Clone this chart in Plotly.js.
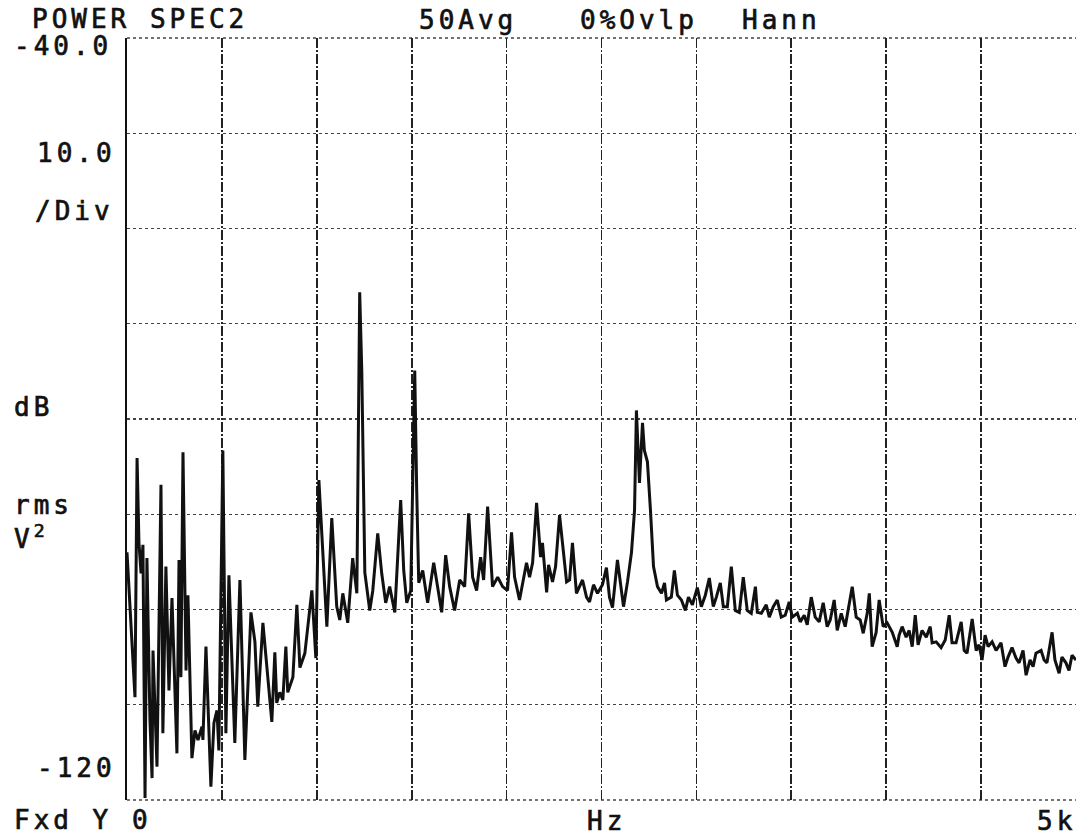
<!DOCTYPE html>
<html>
<head>
<meta charset="utf-8">
<script src="https://cdn.plot.ly/plotly-3.0.1.min.js"></script>
<style>
  html, body { margin: 0; padding: 0; background: #fff; }
  #chart { width: 1076px; height: 838px; }
  .annotation-text { letter-spacing: 4px; stroke: #111; stroke-width: 0.7px; }
</style>
</head>
<body>
<div id="chart"></div>
<script>
// Frequency (Hz)
const freqHz = [
  0, 32, 42, 53, 63, 74, 84, 95, 105, 121, 132, 137, 158, 179, 189, 205, 221, 237, 263, 274,
  284, 295, 311, 321, 342, 358, 374, 395, 400, 416, 442, 458, 474, 484, 505, 521, 537, 568, 595, 621,
  653, 674, 689, 716, 763, 779, 789, 805, 821, 837, 847, 874, 895, 911, 937, 974, 995,
  1011, 1032, 1053, 1079, 1105, 1121, 1137, 1163, 1189, 1211, 1226, 1237, 1253, 1279, 1295, 1321, 1342, 1363, 1384,
  1411, 1442, 1458, 1474, 1495, 1516, 1526, 1537, 1558, 1584, 1616, 1632, 1658, 1679, 1700, 1726, 1753, 1779, 1800,
  1821, 1842, 1863, 1879, 1900, 1926, 1953, 1979, 2005, 2026, 2042, 2068, 2105,
  2121, 2137, 2158, 2179, 2189, 2211, 2221, 2242, 2258, 2279, 2295, 2316, 2332, 2347, 2368, 2384, 2400, 2421, 2437,
  2458, 2479, 2505, 2526, 2542, 2558, 2584, 2616, 2637, 2658, 2674, 2684, 2700, 2716, 2726, 2742, 2758, 2774, 2795,
  2816, 2832, 2842, 2868, 2884, 2900, 2921, 2942, 2958, 2979, 3005, 3026, 3047, 3068, 3089, 3105, 3126, 3142,
  3163, 3184, 3205, 3226, 3247, 3268, 3289, 3311, 3321, 3342, 3368, 3384, 3405, 3426, 3447, 3468, 3489, 3505, 3532,
  3547, 3568, 3584, 3605, 3626, 3647, 3668, 3689, 3705, 3726, 3742, 3763, 3784, 3800, 3821, 3842, 3863, 3879, 3900,
  3911, 3926, 3947, 3963, 3984, 4005, 4032, 4058,
  4068, 4084, 4105, 4121, 4137, 4153, 4168, 4189, 4211, 4232, 4242, 4263, 4289, 4311, 4332, 4347, 4368, 4395, 4411,
  4426, 4453, 4474, 4489, 4505, 4521, 4537, 4558, 4579, 4605, 4626, 4642, 4663, 4684, 4700, 4721, 4737, 4758, 4774,
  4789, 4816, 4832, 4847, 4874, 4889, 4911, 4926, 4947, 4963, 4979, 5000
];
// Power (dB rms V^2)
const powerDb = [
  -94.0, -106.7, -109.2, -84.1, -93.0, -96.2, -93.2, -119.8, -94.6, -111.6, -117.7, -104.3, -116.5, -86.9, -113.0, -95.5, -108.5, -98.8, -115.1, -94.8,
  -107.1, -83.5, -106.4, -98.5, -115.6, -112.7, -113.7, -112.3, -113.7, -103.9, -118.6, -111.9, -110.6, -114.8, -83.3, -113.0, -96.4, -114.0, -96.9, -115.8,
  -100.3, -103.4, -110.2, -101.4, -111.8, -104.5, -109.8, -108.7, -109.5, -103.9, -108.7, -107.1, -99.5, -106.1, -104.6, -98.0, -105.1,
  -86.4, -94.8, -101.8, -90.4, -99.7, -101.1, -98.3, -101.4, -94.6, -98.3, -66.7, -74.9, -96.1, -100.1, -98.0, -92.0, -96.2, -99.3, -97.6,
  -100.3, -88.5, -95.9, -99.3, -98.0, -74.9, -87.1, -97.2, -95.9, -99.3, -95.1, -97.2, -100.3, -94.3, -97.6, -100.1, -96.9, -97.6, -89.9,
  -96.6, -98.0, -94.5, -96.9, -89.2, -97.6, -96.6, -97.6, -98.0, -91.9, -96.6, -99.0, -95.1,
  -96.6, -95.1, -88.8, -94.5, -93.0, -98.2, -95.3, -97.1, -95.5, -90.1, -93.0, -97.1, -96.9, -93.0, -98.3, -97.6, -96.9, -98.7, -99.2,
  -97.4, -98.3, -97.4, -95.6, -98.7, -99.8, -94.8, -99.7, -97.1, -94.0, -89.6, -79.1, -86.7, -80.4, -83.3, -84.5, -89.6, -95.5, -97.6,
  -98.3, -97.2, -99.0, -98.7, -95.9, -98.5, -99.0, -100.1, -98.7, -99.5, -97.7, -99.7, -98.5, -96.7, -99.7, -98.7, -97.2, -99.7,
  -99.7, -95.5, -100.1, -100.3, -96.6, -100.1, -100.4, -97.6, -100.3, -100.4, -99.5, -100.8, -99.7, -99.0, -100.8, -100.6, -99.2, -100.8, -100.4,
  -101.3, -100.6, -101.6, -98.7, -100.8, -101.3, -99.3, -101.8, -101.1, -99.0, -102.2, -100.4, -101.8, -100.1, -97.6, -100.8, -101.1, -102.5, -100.4,
  -98.3, -103.9, -102.4, -99.0, -101.8, -101.4, -102.4, -103.9,
  -102.7, -101.8, -102.9, -102.2, -103.9, -100.6, -103.7, -102.2, -102.9, -101.8, -103.5, -103.4, -104.0, -103.2, -100.6, -103.5, -103.5, -101.3, -104.3,
  -104.6, -101.0, -104.3, -103.7, -105.3, -102.7, -103.9, -103.4, -104.3, -103.5, -106.0, -105.0, -104.0, -105.1, -105.6, -104.3, -106.9, -105.3, -106.0,
  -104.6, -104.3, -105.3, -105.6, -102.4, -105.3, -106.7, -105.0, -105.6, -106.4, -104.8, -105.3
];

// Axis settings from the analyzer display
const xRange = [0, 5000];
const yRange = [-120, -40];
const xStep = 500;   // Hz per division
const yStep = 10;    // dB per division

// Plotter text labels
const headerLabels = ["POWER SPEC2", "50Avg", "0%Ovlp", "Hann"];
const leftLabels = ["-40.0", "10.0", "/Div", "dB", "rms", "V<sup>2</sup>", "-120", "Fxd Y 0"];
const bottomLabels = ["Hz", "5k"];

// Label placements (paper coordinates), kept separate from the data
const W = 949, H = 762, L = 127, T = 38;
function px(x) { return (x - L) / W; }
function py(y) { return (T + H - y) / H; }
const headerPos = [[30, 19], [417, 20], [578, 20], [740, 20]];
const leftPos = [[12, 46], [35, 153], [33, 211], [12, 407], [12, 505], [12, 537], [35, 768], [12, 820]];
const bottomPos = [[585, 821], [1035, 821]];

const font = { family: "DejaVu Sans Mono, Liberation Mono, monospace", size: 26, color: "#111" };

const annotations = [];
function addLabels(texts, pos) {
  texts.forEach((t, i) => {
    annotations.push({
      text: t, xref: "paper", yref: "paper",
      x: px(pos[i][0]), y: py(pos[i][1]),
      xanchor: "left", yanchor: "middle", showarrow: false,
      font: font
    });
  });
}
addLabels(headerLabels, headerPos);
addLabels(leftLabels, leftPos);
addLabels(bottomLabels, bottomPos);

const trace = {
  x: freqHz, y: powerDb, type: "scatter", mode: "lines",
  line: { color: "#111", width: 3 },
  hoverinfo: "skip"
};

const borderLine = { color: "#444", width: 1.3, dash: "dot" };

const layout = {
  width: 1076, height: 838,
  margin: { l: L, r: 0, t: T, b: 38 },
  paper_bgcolor: "#fff", plot_bgcolor: "#fff",
  showlegend: false,
  xaxis: {
    range: xRange, dtick: xStep, tick0: 0,
    showgrid: true, gridcolor: "#222", gridwidth: 1.6, griddash: "10px,2px,2px,2px",
    showticklabels: false, ticks: "", zeroline: false, showline: false
  },
  yaxis: {
    range: yRange, dtick: yStep, tick0: -120,
    showgrid: true, gridcolor: "#444", gridwidth: 1.3, griddash: "dot",
    showticklabels: false, ticks: "", zeroline: false,
    showline: true, linecolor: "#111", linewidth: 1.8
  },
  shapes: [
    { type: "line", xref: "paper", yref: "paper", x0: 0, x1: 1, y0: 1, y1: 1, line: borderLine, layer: "below" },
    { type: "line", xref: "paper", yref: "paper", x0: 0, x1: 1, y0: 0, y1: 0, line: borderLine, layer: "below" }
  ],
  annotations: annotations
};

Plotly.newPlot("chart", [trace], layout, { staticPlot: true, displayModeBar: false });
</script>
</body>
</html>
